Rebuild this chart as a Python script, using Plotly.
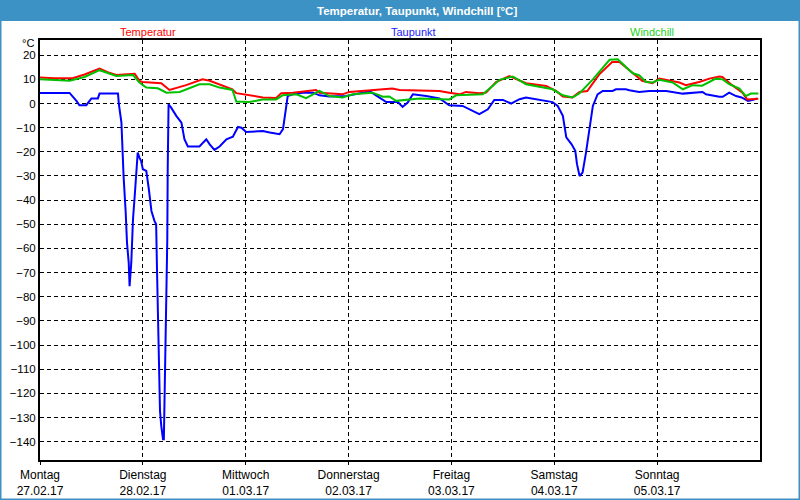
import plotly.graph_objects as go

# Time in hours since Montag 27.02.17 00:00
temp_h = [0, 3.4, 7.6, 10.4, 13.9, 15.8, 17.8, 22.1, 23.2, 23.9, 28.3, 30.2, 34.1, 37.9, 39.6, 41.9,
          44.9, 45.8, 52.0, 55.1, 56.3, 59.0, 64.4, 65.2, 70.6, 72.2, 76.9, 82.2, 83.9, 93.2, 95.5,
          97.9, 99.4, 102.5, 104.1, 106.4, 109.5, 113.4, 118.1, 120.4, 122.0, 124.2, 125.9, 127.7,
          130.5, 133.5, 135.2, 140.5, 142.9, 144.5, 149.2, 150.7, 153.8, 156.2, 158.5, 159.2, 161.5,
          163.9, 165.0, 167.1, 167.6]
temp_v = [10.8, 10.5, 10.5, 12.0, 14.5, 13.0, 11.8, 12.3, 9.4, 8.9, 8.4, 5.6, 7.6, 10.0, 9.4, 8.0,
          5.9, 4.3, 2.5, 2.3, 4.3, 4.5, 5.6, 4.5, 3.8, 4.8, 5.6, 6.2, 5.6, 5.2, 4.5,
          3.8, 4.8, 4.3, 4.5, 8.9, 11.4, 8.4, 7.3, 5.2, 2.9, 2.5, 4.8, 5.2,
          12.1, 17.2, 17.2, 9.4, 8.4, 10.3, 8.7, 7.6, 8.9, 10.3, 11.2, 11.0, 7.6,
          4.5, 1.7, 2.0, 2.0]

wind_h = [0, 6.9, 10.4, 13.9, 17.8, 21.7, 23.2, 24.8, 27.5, 29.5, 32.6, 37.2, 39.6, 41.9, 44.9, 45.8,
          48.9, 51.9, 55.1, 56.6, 59.8, 62.1, 65.2, 67.5, 70.6, 73.0, 77.6, 80.0, 81.5, 83.1, 88.5,
          95.5, 97.1, 103.3, 105.6, 107.2, 110.3, 113.4, 119.6, 122.0, 124.3, 125.9, 129.0, 132.9,
          134.8, 138.3, 139.8, 141.4, 142.9, 144.5, 147.6, 150.0, 152.3, 154.5, 157.7, 159.3, 160.8,
          163.2, 164.7, 165.9, 167.6]
wind_v = [10.0, 9.4, 11.0, 13.8, 11.4, 11.8, 8.7, 6.6, 6.3, 4.5, 4.8, 8.0, 8.0, 6.6, 5.6, 0.8,
          0.6, 1.7, 1.7, 3.4, 3.8, 2.2, 5.2, 3.1, 2.5, 3.8, 4.5, 2.8, 2.9, 1.1, 2.1,
          1.7, 3.4, 3.8, 7.3, 9.8, 11.2, 8.0, 5.9, 3.4, 2.5, 4.3, 10.0, 18.1,
          18.3, 12.5, 11.7, 8.9, 8.7, 9.8, 8.7, 5.9, 7.6, 7.4, 10.3, 10.0, 8.0,
          6.2, 3.1, 4.1, 4.1]

dew_h = [0, 6.9, 8.5, 9.2, 10.8, 12.0, 13.5, 13.9, 18.2, 18.4, 19.0, 19.2, 19.5, 20.0, 20.3, 20.7,
         20.9, 21.3, 21.7, 22.1, 22.5, 22.8, 23.2, 23.6, 24.0, 24.8, 25.4, 26.0, 26.7, 27.1, 27.3,
         27.5, 27.7, 28.0, 28.3, 28.7, 28.9, 29.1, 29.3, 29.5, 29.7, 29.8, 30.0, 30.6, 31.8, 33.0,
         33.7, 34.5, 37.2, 38.8, 39.6, 40.7, 41.9, 43.5, 45.0, 46.2, 47.0, 48.1, 52.0, 53.6, 55.9,
         56.7, 57.3, 57.8, 59.0, 61.3, 63.7, 65.2, 67.5, 71.4, 75.3, 76.9, 78.4, 80.8, 83.5, 84.6,
         85.8, 87.0, 90.1, 93.2, 95.5, 98.6, 102.5, 104.5, 106.0, 108.0, 109.9, 111.9, 113.4, 115.8,
         119.6, 120.8, 122.0, 122.8, 124.0, 124.9, 125.3, 125.9, 126.6, 127.4, 128.2, 129.0, 130.1,
         131.3, 133.6, 134.4, 136.7, 137.5, 139.8, 142.2, 146.1, 150.0, 154.6, 155.4, 158.5, 159.3,
         160.8, 162.4, 163.7, 165.2, 166.4, 167.3]
dew_v = [4.4, 4.4, 1.1, -0.7, -0.7, 2.1, 2.1, 4.1, 4.1, -0.3, -7.9, -19.6, -30.0, -45.2, -57.6, -65.9,
         -75.6, -65.9, -47.9, -38.3, -30.0, -20.3, -22.4, -23.8, -27.2, -27.9, -35.5, -44.5, -48.6, -50.0, -68.6,
         -88.0, -108.7, -127.3, -133.6, -139.0, -139.0, -118.4, -100.4, -83.9, -56.2, -27.2, -0.3, -1.7, -5.1, -7.9,
         -14.8, -17.8, -17.8, -14.8, -16.9, -19.2, -17.8, -14.8, -13.7, -9.7, -10.0, -11.8, -11.4, -12.0, -12.7,
         -10.6, -3.7, 3.1, 3.8, 4.5, 4.5, 3.4, 2.9, 3.1, 4.5, 5.2, 3.4, 0.6, 0.6, -1.4,
         0.4, 3.8, 3.1, 2.1, -0.7, -1.0, -4.4, -2.4, 1.5, 1.5, 0.0, 1.8, 2.5, 1.7,
         0.6, -1.0, -5.1, -14.0, -16.8, -19.6, -25.1, -30.0, -28.6, -20.3, -10.0, -1.0, 3.8,
         5.2, 5.2, 5.9, 5.9, 5.5, 4.8, 5.2, 5.2, 4.1, 4.8, 3.8, 2.8, 2.8,
         4.5, 3.1, 2.5, 1.1, 1.5, 2.1]

day_ticks = [0, 24, 48, 72, 96, 120, 144]
day_names = ["Montag", "Dienstag", "Mittwoch", "Donnerstag", "Freitag", "Samstag", "Sonntag"]
day_dates = ["27.02.17", "28.02.17", "01.03.17", "02.03.17", "03.03.17", "04.03.17", "05.03.17"]
y_ticks = list(range(-140, 21, 10))

FONT = "Liberation Sans"
RED, BLUE, GREEN = "#ff0000", "#0000ff", "#00c000"
FRAME = "#3c92c4"

fig = go.Figure()
fig.add_trace(go.Scatter(x=dew_h, y=dew_v, mode="lines", line=dict(color=BLUE, width=2), name="Taupunkt"))
fig.add_trace(go.Scatter(x=temp_h, y=temp_v, mode="lines", line=dict(color=RED, width=2), name="Temperatur"))
fig.add_trace(go.Scatter(x=wind_h, y=wind_v, mode="lines", line=dict(color=GREEN, width=2), name="Windchill"))

W, H, L, R, T, B = 800, 500, 40, 40, 40, 40
pw, ph = W - L - R, H - T - B

def px(x):
    return (x - L) / pw

def py(y):
    return (H - B - y) / ph

shapes = [
    dict(type="rect", xref="paper", yref="paper", x0=px(0), x1=px(800), y0=py(0), y1=py(21),
         fillcolor=FRAME, line=dict(width=0), layer="below"),
    dict(type="rect", xref="paper", yref="paper", x0=px(0), x1=px(1.5), y0=py(0), y1=py(500),
         fillcolor=FRAME, line=dict(width=0)),
    dict(type="rect", xref="paper", yref="paper", x0=px(798.5), x1=px(800), y0=py(0), y1=py(500),
         fillcolor=FRAME, line=dict(width=0)),
    dict(type="rect", xref="paper", yref="paper", x0=px(0), x1=px(800), y0=py(498.5), y1=py(500),
         fillcolor=FRAME, line=dict(width=0)),
]

annotations = [
    dict(text="<b>Temperatur, Taupunkt, Windchill [°C]</b>", xref="paper", yref="paper",
         x=px(417), y=py(10.5), showarrow=False, xanchor="center", yanchor="middle",
         font=dict(family=FONT, size=11.5, color="white")),
    dict(text="Temperatur", xref="paper", yref="paper", x=px(148), y=py(32), showarrow=False,
         xanchor="center", yanchor="middle", font=dict(family=FONT, size=11, color=RED)),
    dict(text="Taupunkt", xref="paper", yref="paper", x=px(413), y=py(32), showarrow=False,
         xanchor="center", yanchor="middle", font=dict(family=FONT, size=11, color="#2020ff")),
    dict(text="Windchill", xref="paper", yref="paper", x=px(652), y=py(32), showarrow=False,
         xanchor="center", yanchor="middle", font=dict(family=FONT, size=11, color="#20d020")),
    dict(text="°C", xref="paper", yref="paper", x=px(36), y=py(43), showarrow=False,
         xanchor="right", yanchor="middle", font=dict(family=FONT, size=11, color="black")),
]

fig.update_layout(
    width=W, height=H,
    margin=dict(l=L, r=R, t=T, b=B, pad=0, autoexpand=False),
    paper_bgcolor="white", plot_bgcolor="white",
    showlegend=False,
    shapes=shapes, annotations=annotations,
    font=dict(family=FONT, size=11, color="black"),
)
fig.update_xaxes(
    range=[0, 168], tickvals=day_ticks,
    ticktext=[f"{n}<br>{d}" for n, d in zip(day_names, day_dates)],
    showgrid=True, gridcolor="black", gridwidth=1, griddash="4px,3px",
    showline=True, linecolor="black", linewidth=2, mirror=True,
    ticks="outside", ticklen=3, tickcolor="black", zeroline=False, automargin=False,
    tickfont=dict(family=FONT, size=12, color="black"), ticklabelstandoff=0,
)
fig.update_yaxes(
    range=[-147.6, 26.3], tickvals=y_ticks,
    showgrid=True, gridcolor="black", gridwidth=1, griddash="4px,3px",
    showline=True, linecolor="black", linewidth=2, mirror=True,
    ticks="", zeroline=False, automargin=False,
    tickfont=dict(family=FONT, size=11.5, color="black"),
)

fig.write_html("out.html")
